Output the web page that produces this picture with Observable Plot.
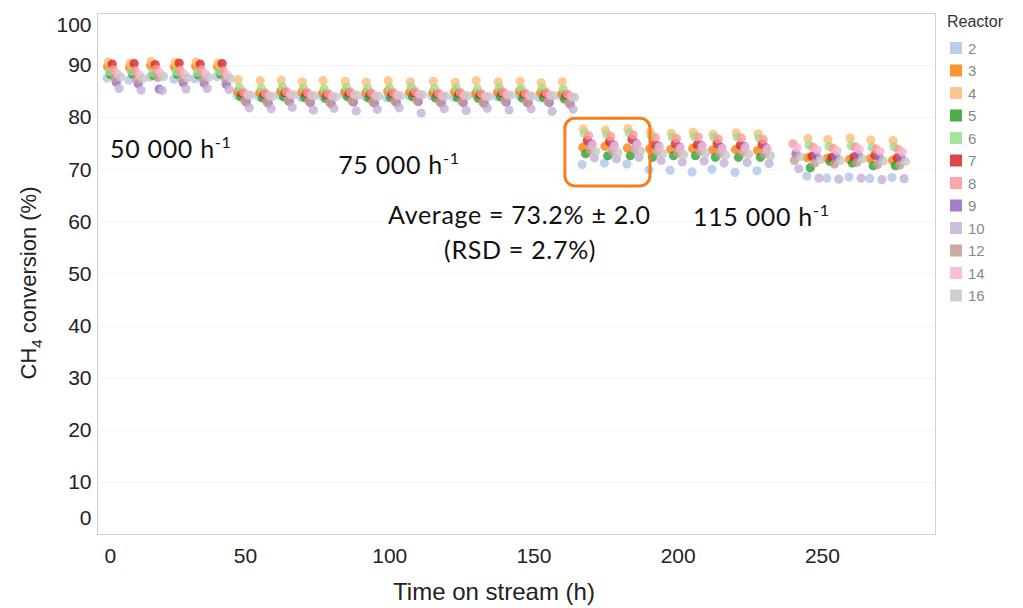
<!DOCTYPE html>
<html><head><meta charset="utf-8">
<script src="https://cdn.jsdelivr.net/npm/d3@7"></script>
<script src="https://cdn.jsdelivr.net/npm/@observablehq/plot@0.6"></script>
<style>body{margin:0;background:#fff;} svg{display:block;}</style>
</head><body><div id="chart"></div>
<script>
// ---- data ----
const reactors = [2, 3, 4, 5, 6, 7, 8, 9, 10, 12, 14, 16];
const reactorColors = ["#aec7e8","#ff7f0e","#ffbb78","#2ca02c","#98df8a","#d62728","#ff9896","#9467bd","#c5b0d5","#c49c94","#f7b6d2","#c7c7c7"];
// start of each GC sampling cycle (h)
const cycleTimes = [3.2, 10.8, 18.1, 26.4, 33.7, 41.3,
  48.3, 55.9, 63.2, 70.5, 77.7, 85.4, 92.7, 100.3, 107.9, 115.9, 123.5, 130.8, 138.4, 146.0, 153.3, 160.6,
  167.9, 175.6, 183.4, 191.1, 198.4, 206.0, 212.9, 220.9, 228.5,
  238.8, 245.8, 252.7, 260.4, 267.6, 275.3];
// sampling delay of each reactor within a cycle (h), same order as reactors
const sampleOffsets = [-1.2, -1.0, -0.8, 0, -0.4, 0.6, 1.0, 2.0, 3.0, 1.5, 2.4, 3.5];
// CH4 conversion (%) per reactor, one value per cycle
const conv2  = [87.6,87.2,87.8,87.4,87.5,87.9, 84.2,84.0,84.3,83.9,84.1,84.4,84.0,83.8,84.2,84.1,83.9,84.3,84.0,84.2,83.8,84.1, 71.0,71.3,71.1,70.0,69.9,69.6,70.1,69.5,69.8, null,68.8,68.4,68.6,68.3,68.5];
const conv3  = [89.8,89.6,90.0,89.7,89.9,89.8, 85.0,84.8,85.1,84.9,84.7,85.0,84.8,85.1,84.9,84.8,85.0,84.7,84.9,85.1,84.8,84.6, 74.3,74.5,74.2,74.0,73.9,74.1,73.8,73.9,73.7, null,72.3,72.2,72.0,72.1,71.8];
const conv4  = [90.7,90.5,90.8,90.6,90.7,90.5, 87.3,87.1,87.2,86.9,87.1,87.0,86.8,87.1,86.9,87.0,86.8,87.1,86.9,87.0,86.7,86.9, 77.8,77.6,77.9,77.3,77.0,77.2,76.8,77.1,76.9, null,76.0,75.8,76.1,75.7,75.6];
const conv5  = [88.3,88.4,88.1,88.3,88.2,88.4, 84.0,83.8,84.0,83.9,83.7,84.0,83.8,83.9,84.0,83.8,83.9,83.7,84.0,83.8,83.9,83.6, 73.1,72.7,72.7,72.4,72.7,72.7,72.4,72.4,72.4, null,70.4,71.6,71.3,70.8,70.8];
const conv6  = [88.8,88.9,88.6,88.8,88.7,88.9, 85.8,85.6,85.9,85.7,85.5,85.8,85.6,85.7,85.9,85.6,85.7,85.5,85.8,85.6,85.7,85.4, 77.0,76.8,77.1,76.5,76.3,76.4,76.2,76.3,76.1, null,74.7,74.5,74.6,74.3,74.4];
const conv7  = [90.3,90.4,90.2,90.5,90.3,90.4, 84.6,84.5,84.8,84.6,84.4,84.7,84.5,84.6,84.7,84.5,84.6,84.4,84.7,84.5,84.6,84.3, 75.6,75.4,75.8,74.9,75.0,74.8,75.0,74.7,74.9, null,72.6,72.4,72.5,72.8,72.3];
const conv8  = [89.2,89.0,89.3,89.1,89.2,89.0, 84.9,84.7,85.0,84.8,84.6,84.9,84.7,84.8,85.0,84.7,84.8,84.6,84.9,84.7,84.8,84.5, 76.6,76.4,76.7,76.2,76.0,76.3,75.9,76.1,75.8, 75.0,74.3,74.1,74.4,74.0,73.9];
const conv9  = [86.8,86.5,85.5,86.7,86.6,86.4, 83.0,82.8,83.1,82.9,82.7,83.0,82.8,82.9,83.1,82.8,82.9,82.7,83.0,82.8,82.9,82.6, 75.0,74.8,75.1,74.6,74.4,74.7,74.3,74.5,74.2, 73.1,72.7,72.5,72.8,72.4,72.3];
const conv10 = [85.6,85.3,85.2,85.5,85.6,85.4, 81.9,81.7,82.0,81.5,81.8,81.3,81.6,81.9,80.9,81.7,81.4,81.8,81.5,81.7,81.2,81.6, 72.3,72.1,72.4,71.8,71.5,71.7,71.3,71.4,71.2, 70.2,68.4,68.2,68.4,68.1,68.3];
const conv12 = [87.6,87.3,87.7,87.5,87.4,87.6, 83.2,83.0,83.3,83.1,82.9,83.2,83.0,83.1,83.3,83.0,83.1,82.9,83.2,83.0,83.1,82.8, 73.8,73.6,73.9,73.4,73.2,73.5,73.1,73.3,73.0, 71.8,71.3,71.1,71.4,71.0,70.9];
const conv14 = [88.4,88.2,88.5,88.3,88.4,88.2, 84.4,84.2,84.5,84.3,84.1,84.4,84.2,84.3,84.5,84.2,84.3,84.1,84.4,84.2,84.3,84.0, 74.8,74.6,74.9,74.4,74.2,74.5,74.1,74.3,74.0, 74.2,73.8,73.6,73.9,73.5,73.4];
const conv16 = [87.8,87.5,87.9,87.6,87.7,87.5, 84.3,84.1,84.4,84.2,84.0,84.3,84.1,84.2,84.4,84.1,84.2,84.0,84.3,84.1,84.2,83.9, 73.5,73.3,73.6,73.1,72.9,73.2,72.8,73.0,72.7, 72.5,72.0,71.8,72.1,71.7,71.6];
const conversions = [conv2, conv3, conv4, conv5, conv6, conv7, conv8, conv9, conv10, conv12, conv14, conv16];

const xTicks = [0, 50, 100, 150, 200, 250];
const yTicks = [0, 10, 20, 30, 40, 50, 60, 70, 80, 90, 100];
const highlightBox = [{t1: 160.9, t2: 190.4, v1: 66.8, v2: 79.8}];
const annotations = [
  {t: 3.2,  v: 72.2, text: "50 000 h", sup: "-1"},
  {t: 82.3, v: 69.1, text: "75 000 h", sup: "-1"},
  {t: 99.6, v: 59.5, text: "Average = 73.2% \u00b1 2.0", sup: ""},
  {t: 119.0, v: 52.8, text: "(RSD = 2.7%)", sup: ""},
  {t: 205.3, v: 59.1, text: "115 000 h", sup: "-1"}
];

// ---- build table ----
const rows = [];
reactors.forEach((r, i) => {
  conversions[i].forEach((v, k) => {
    if (v != null) rows.push({reactor: String(r), t: cycleTimes[k] + sampleOffsets[i], v});
  });
});

const FONT = "'Liberation Sans', Arial, sans-serif";
const chart = Plot.plot({
  width: 1023, height: 608,
  marginLeft: 97, marginRight: 88, marginTop: 13, marginBottom: 74,
  style: {fontFamily: FONT, color: "#222", background: "#fff"},
  x: {domain: [-1.3, 289.2], axis: null},
  y: {domain: [0, 100], axis: null},
  color: {domain: reactors.map(String), range: reactorColors},
  marks: [
    Plot.gridY(yTicks.slice(1, -1), {stroke: "#000", strokeOpacity: 0.05}),
    Plot.frame({stroke: "#cfcfcf"}),
    Plot.dot(rows, {x: "t", y: "v", fill: "reactor", r: 4.6, fillOpacity: 0.8}),
    Plot.rect(highlightBox, {x1: "t1", x2: "t2", y1: "v1", y2: "v2", fill: "none", stroke: "#f57f20", strokeWidth: 3, rx: 10}),
    Plot.axisY(yTicks.slice(1, -1), {tickSize: 0, tickPadding: 6, fontSize: 21, label: null}),
    Plot.axisY([0], {tickSize: 0, tickPadding: 6, fontSize: 21, label: null, dy: -16}),
    Plot.axisY([100], {tickSize: 0, tickPadding: 6, fontSize: 21, label: null, dy: 12}),
    Plot.axisX(xTicks.slice(1), {tickSize: 0, tickPadding: 14, fontSize: 21, label: null}),
    Plot.axisX([0], {tickSize: 0, tickPadding: 14, fontSize: 21, label: null, dx: 9})
  ]
});
document.getElementById("chart").appendChild(chart);

// ---- annotations, titles, legend ----
const svg = d3.select(chart);
const sx = chart.scale("x"), sy = chart.scale("y");
annotations.forEach(a => {
  const t = svg.append("text")
    .attr("x", sx.apply(a.t)).attr("y", sy.apply(a.v)).attr("text-anchor", "start")
    .attr("font-family", "Lato, 'Open Sans', sans-serif").attr("font-size", 25)
    .attr("letter-spacing", 0.7).attr("fill", "#111");
  t.append("tspan").text(a.text);
  if (a.sup) t.append("tspan").attr("dy", -10).attr("font-size", 16).text(a.sup);
});

svg.append("text").attr("x", 494).attr("y", 600).attr("text-anchor", "middle")
  .attr("font-family", FONT).attr("font-size", 24).attr("fill", "#222").text("Time on stream (h)");

const yt = svg.append("text").attr("transform", "translate(36,283) rotate(-90)").attr("text-anchor", "middle")
  .attr("font-family", FONT).attr("font-size", 22).attr("fill", "#222");
yt.append("tspan").text("CH");
yt.append("tspan").attr("dy", 6).attr("font-size", 15).text("4");
yt.append("tspan").attr("dy", -6).text(" conversion (%)");

const lg = svg.append("g").attr("font-family", FONT).attr("text-anchor", "start");
lg.append("text").attr("x", 947).attr("y", 27).attr("font-size", 16).attr("fill", "#333").text("Reactor");
reactors.forEach((r, i) => {
  const cy = 48 + i * 22.5;
  lg.append("rect").attr("x", 950).attr("y", cy - 6).attr("width", 12).attr("height", 12)
    .attr("fill", reactorColors[i]).attr("fill-opacity", 0.85);
  lg.append("text").attr("x", 968).attr("y", cy + 5.5).attr("font-size", 15).attr("fill", "#888").text(r);
});
</script>
</body></html>
